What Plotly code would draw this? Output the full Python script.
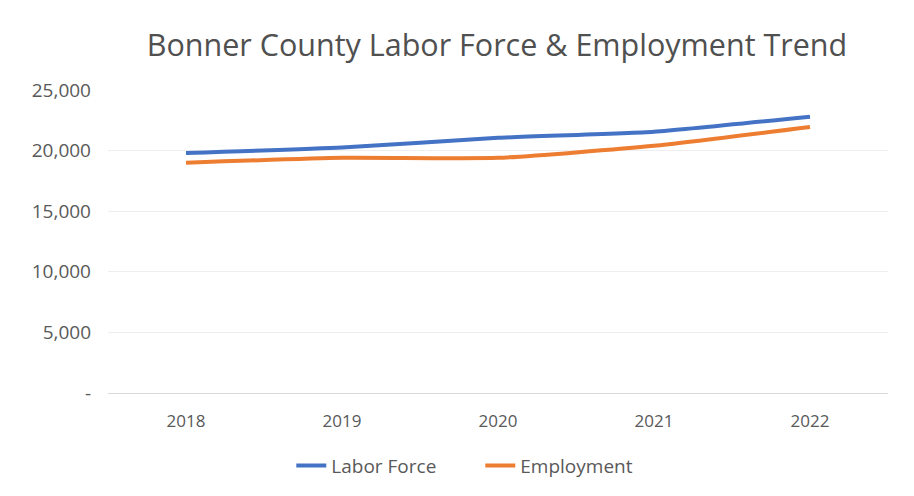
import plotly.graph_objects as go

years = ["2018", "2019", "2020", "2021", "2022"]
labor_force = [19800, 20250, 21050, 21550, 22800]
employment = [19000, 19400, 19400, 20400, 21950]

y_ticks = [0, 5000, 10000, 15000, 20000, 25000]
y_tick_text = ["-", "5,000", "10,000", "15,000", "20,000", "25,000"]

fig = go.Figure()
fig.add_trace(go.Scatter(
    x=years, y=labor_force, name="Labor Force", mode="lines",
    line=dict(color="#4472c4", width=4, shape="spline", smoothing=0.5),
))
fig.add_trace(go.Scatter(
    x=years, y=employment, name="Employment", mode="lines",
    line=dict(color="#ed7d31", width=4, shape="spline", smoothing=0.5),
))

# page body adds an 8px offset, so margins are shifted to compensate
fig.update_layout(
    width=914, height=496,
    paper_bgcolor="white", plot_bgcolor="white",
    margin=dict(l=100, r=34, t=82, b=111, autoexpand=False),
    font=dict(family="Open Sans, Liberation Sans, sans-serif", color="#595959", size=17),
    title=dict(
        text="Bonner County Labor Force & Employment Trend",
        x=0.535, xanchor="center", y=0.925, yanchor="middle",
        font=dict(size=30.5, color="#505050"),
    ),
    xaxis=dict(
        type="category", range=[-0.5, 4.5],
        showgrid=False, showline=True, linecolor="#d9d9d9", linewidth=1,
        ticks="", ticklabelstandoff=13, tickfont=dict(size=17),
    ),
    yaxis=dict(
        range=[0, 25000], tickvals=y_ticks, ticktext=y_tick_text,
        showgrid=True, gridcolor="#eeeeee", zeroline=False,
        ticks="", ticklabelstandoff=16, tickfont=dict(size=19),
    ),
    legend=dict(
        orientation="h", x=0.235, xanchor="left", y=-0.24, yanchor="middle",
        font=dict(size=19), entrywidth=144,
    ),
)

fig.write_html("out.html")
